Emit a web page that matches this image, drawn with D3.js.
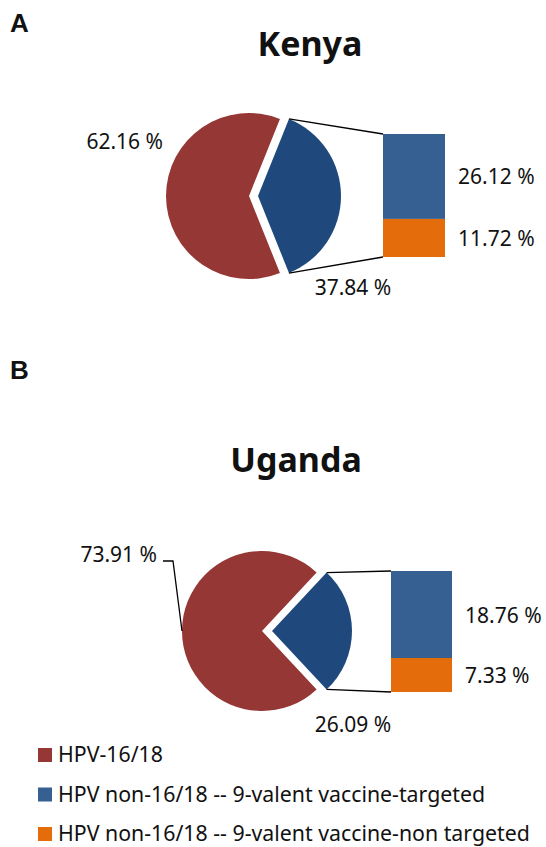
<!DOCTYPE html>
<html>
<head>
<meta charset="utf-8">
<script src="https://cdn.jsdelivr.net/npm/d3@7"></script>
<style>
  body { margin: 0; background: #fff; }
  svg { display: block; }
  text { font-family: "Noto Sans", "Open Sans", sans-serif; fill: #111; }
</style>
</head>
<body>
<div id="chart"></div>
<script>
// values
const countries = ['Kenya', 'Uganda'];
const panelLetters = ['A', 'B'];
const hpv1618 = [62.16, 73.91];
const non1618 = [37.84, 26.09];
const targeted9v = [26.12, 18.76];
const nonTargeted9v = [11.72, 7.33];
const categories = [
    'HPV-16/18',
    'HPV non-16/18 -- 9-valent vaccine-targeted',
    'HPV non-16/18 -- 9-valent vaccine-non targeted'
];
const colors = ['#953735', '#1f497d', '#376092', '#e46c0a'];
const legendColors = ['#953735', '#376092', '#e46c0a'];

// layout of each panel
const panels = [
    { cx: 249, cy: 196, r: 83, explode: 9, barX: 383, barW: 62, barTop: 134, barH: 123,
      titleX: 310, titleY: 56, letterY: 32, redLabel: { x: 163, y: 149 }, leader: false,
      blueLabel: { x: 353, y: 295 } },
    { cx: 262, cy: 631, r: 80, explode: 10, barX: 391, barW: 61, barTop: 571, barH: 121,
      titleX: 296, titleY: 472, letterY: 379, redLabel: { x: 157, y: 562 }, leader: true,
      blueLabel: { x: 353, y: 732 } }
];

const width = 546, height = 847;
const fmt = v => d3.format('.2f')(v) + ' %';

const svg = d3.select('#chart')
    .append('svg')
    .attr('width', width)
    .attr('height', height);

panels.forEach((p, i) => {
    const g = svg.append('g');

    g.append('text')
        .attr('x', 10)
        .attr('y', p.letterY)
        .style('font-family', '"Liberation Sans", Arial, sans-serif')
        .style('font-weight', 'bold')
        .style('font-size', '26px')
        .text(panelLetters[i]);

    g.append('text')
        .attr('x', p.titleX)
        .attr('y', p.titleY)
        .attr('text-anchor', 'middle')
        .style('font-weight', 'bold')
        .style('font-size', '34px')
        .text(countries[i]);

    // pie: blue slice first, centred on the right side
    const blueAngle = 2 * Math.PI * non1618[i] / (non1618[i] + hpv1618[i]);
    const start = Math.PI / 2 - blueAngle / 2;
    const pie = d3.pie().sort(null)
        .startAngle(start)
        .endAngle(start + 2 * Math.PI);
    const slices = pie([non1618[i], hpv1618[i]]);
    const arc = d3.arc().innerRadius(0).outerRadius(p.r);

    const blueC = [p.cx + p.explode, p.cy];
    const redC = [p.cx, p.cy];

    g.append('path')
        .attr('transform', `translate(${redC[0]},${redC[1]})`)
        .attr('d', arc(slices[1]))
        .attr('fill', colors[0]);

    g.append('path')
        .attr('transform', `translate(${blueC[0]},${blueC[1]})`)
        .attr('d', arc(slices[0]))
        .attr('fill', colors[1]);

    // stacked bar of the non-16/18 part
    const y = d3.scaleLinear()
        .domain([0, non1618[i]])
        .range([p.barTop + p.barH, p.barTop]);

    const stack = [
        { v0: 0, v1: nonTargeted9v[i], color: colors[3], value: nonTargeted9v[i] },
        { v0: nonTargeted9v[i], v1: nonTargeted9v[i] + targeted9v[i], color: colors[2], value: targeted9v[i] }
    ];

    g.selectAll('.seg')
        .data(stack)
        .enter()
        .append('rect')
        .attr('class', 'seg')
        .attr('x', p.barX)
        .attr('y', d => y(d.v1))
        .attr('width', p.barW)
        .attr('height', d => y(d.v0) - y(d.v1))
        .attr('fill', d => d.color);

    g.selectAll('.seg-label')
        .data(stack)
        .enter()
        .append('text')
        .attr('class', 'seg-label')
        .attr('x', p.barX + p.barW + 13)
        .attr('y', d => (y(d.v0) + y(d.v1)) / 2 + 8)
        .style('font-size', '21px')
        .text(d => fmt(d.value));

    // connector lines from the slice edges to the bar
    const pt = (c, a) => [c[0] + p.r * Math.sin(a), c[1] - p.r * Math.cos(a)];
    const topPt = pt(blueC, slices[0].startAngle);
    const botPt = pt(blueC, slices[0].endAngle);
    const line = d3.line();

    g.append('path')
        .attr('d', line([topPt, [p.barX, y(non1618[i])]]))
        .attr('stroke', '#000').attr('stroke-width', 1.3).attr('fill', 'none');
    g.append('path')
        .attr('d', line([botPt, [p.barX, y(0)]]))
        .attr('stroke', '#000').attr('stroke-width', 1.3).attr('fill', 'none');

    // slice labels
    g.append('text')
        .attr('x', p.redLabel.x)
        .attr('y', p.redLabel.y)
        .attr('text-anchor', 'end')
        .style('font-size', '21px')
        .text(fmt(hpv1618[i]));

    if (p.leader) {
        const end = pt(redC, 3 * Math.PI / 2);
        g.append('path')
            .attr('d', line([[p.redLabel.x + 6, p.redLabel.y - 1], [p.redLabel.x + 16, p.redLabel.y - 1], end]))
            .attr('stroke', '#000').attr('stroke-width', 1.3).attr('fill', 'none');
    }

    g.append('text')
        .attr('x', p.blueLabel.x)
        .attr('y', p.blueLabel.y)
        .attr('text-anchor', 'middle')
        .style('font-size', '21px')
        .text(fmt(non1618[i]));
});

// legend
const legend = svg.append('g')
    .attr('transform', 'translate(38, 748)');

const items = legend.selectAll('.item')
    .data(categories)
    .enter()
    .append('g')
    .attr('class', 'item')
    .attr('transform', (d, i) => `translate(0, ${i * 39.5})`);

items.append('rect')
    .attr('width', 14)
    .attr('height', 14)
    .attr('fill', (d, i) => legendColors[i]);

items.append('text')
    .attr('x', 20)
    .attr('y', 14)
    .style('font-size', '21.3px')
    .text(d => d);
</script>
</body>
</html>
